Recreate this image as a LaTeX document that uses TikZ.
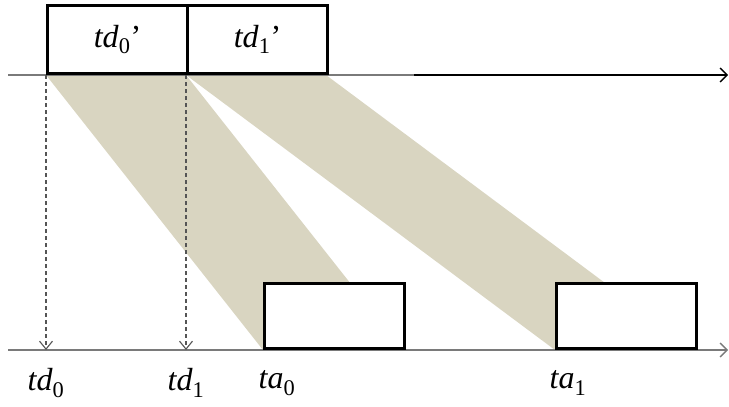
\documentclass[tikz,border=0pt]{standalone}
\usepackage{fontspec}
\setmainfont{Liberation Serif}
\usetikzlibrary{arrows.meta}
\definecolor{band}{HTML}{D9D5C1}
\definecolor{axisgray}{HTML}{7A7A7A}
\definecolor{dropgray}{HTML}{555555}
\newcommand\lb[2]{\textit{#1}\textsubscript{#2}}
\tikzset{
  slot/.style={draw=black, line width=3pt, fill=white, minimum width=140pt, inner sep=0pt, anchor=south west},
  lbl/.style={font=\fontsize{32}{36}\selectfont, inner sep=0pt},
  axis/.style={draw=axisgray, line width=1.4pt},
  drop/.style={draw=dropgray, line width=1.1pt, dash pattern=on 4pt off 3pt, -{Straight Barb[length=8pt,width=13pt,line width=1.1pt]}},
}
\begin{document}
\begin{tikzpicture}[x=1pt,y=-1pt]
\useasboundingbox (0,0) rectangle (729,407);
% coordinates
\coordinate (a0) at (46,75);
\coordinate (a1) at (186,75);
\coordinate (a2) at (326,75);
\coordinate (b0) at (263,350);
\coordinate (b1) at (403,350);
\coordinate (c0) at (555,350);
\coordinate (c1) at (695,350);
\coordinate (d0) at (46,350);
\coordinate (d1) at (186,350);
\coordinate (tl) at (8,75);
\coordinate (tm) at (414,75);
\coordinate (tr) at (728,75);
\coordinate (bl) at (8,350);
\coordinate (br) at (728,350);
% bands
\fill[band] (a0) -- (a1) -- (b1) -- (b0) -- cycle;
\fill[band] (a1) -- (a2) -- (c1) -- (c0) -- cycle;
% axes
\draw[axis] (tl) -- (tm);
\draw[black, line width=2pt, -{Straight Barb[length=7pt,width=14pt,line width=1.4pt]}] (tm) -- (tr);
\draw[axis, -{Straight Barb[length=7pt,width=14pt,line width=1.4pt]}] (bl) -- (br);
% drops
\draw[drop] (a0) -- (d0);
\draw[drop] (a1) -- (d1);
% boxes
\node[slot, minimum height=68pt] (s0) at (a0) {};
\node[slot, minimum height=68pt] (s1) at (a1) {};
\node[slot, minimum height=65pt] (r0) at (b0) {};
\node[slot, minimum height=65pt] (r1) at (c0) {};
% box labels
\node[lbl] (l0) at (s0.center) {\lb{td}{0}’};
\node[lbl] (l1) at (s1.center) {\lb{td}{1}’};
% axis labels
\node[lbl] (m0) at (46,383) {\lb{td}{0}};
\node[lbl] (m1) at (186,383) {\lb{td}{1}};
\node[lbl] (m2) at (277,383) {\lb{ta}{0}};
\node[lbl] (m3) at (568,383) {\lb{ta}{1}};
\end{tikzpicture}
\end{document}
